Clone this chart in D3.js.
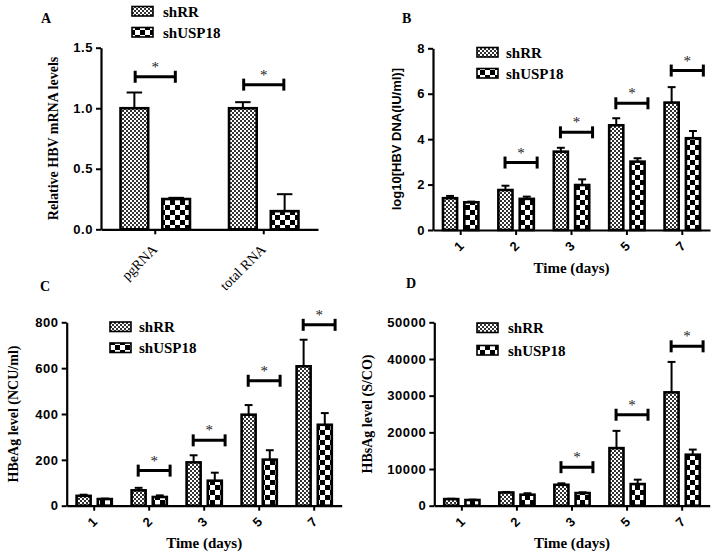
<!DOCTYPE html>
<html><head><meta charset="utf-8">
<script src="https://cdn.jsdelivr.net/npm/d3@7"></script>
<style>body{margin:0;background:#fff}</style>
</head><body>
<svg id="chart" width="714" height="556"></svg>
<script>
// ---------- data ----------
const series = ["shRR", "shUSP18"];

const catsA = ["pgRNA", "total RNA"];
const rrA = [1.00, 1.00];
const rrErrA = [0.13, 0.05];
const uspA = [0.25, 0.15];
const uspErrA = [0.01, 0.14];
const sigA = [1.26, 1.195];
const ticksA = [0, 0.5, 1.0, 1.5];

const days = ["1", "2", "3", "5", "7"];

const rrB = [1.40, 1.76, 3.45, 4.61, 5.61];
const rrErrB = [0.10, 0.19, 0.17, 0.31, 0.68];
const uspB = [1.22, 1.37, 1.98, 3.01, 4.04];
const uspErrB = [0.03, 0.10, 0.25, 0.15, 0.32];
const sigB = [null, 2.97, 4.30, 5.58, 7.02];
const ticksB = [0, 2, 4, 6, 8];

const rrC = [43, 67, 189, 397, 608];
const rrErrC = [5, 11, 31, 42, 116];
const uspC = [29, 38, 109, 201, 353];
const uspErrC = [2, 7, 35, 41, 51];
const sigC = [null, 153, 285, 545, 789];
const ticksC = [0, 200, 400, 600, 800];

const rrD = [1800, 3600, 5700, 15700, 30900];
const rrErrD = [100, 150, 400, 4700, 8300];
const uspD = [1550, 3000, 3450, 5900, 13900];
const uspErrD = [100, 400, 200, 1200, 1400];
const sigD = [null, null, 10500, 24800, 43450];
const ticksD = [0, 10000, 20000, 30000, 40000, 50000];

// ---------- setup ----------
const svg = d3.select("#chart");
const defs = svg.append("defs");
const pf = defs.append("pattern").attr("id", "pFine").attr("patternUnits", "userSpaceOnUse")
  .attr("width", 4).attr("height", 4);
pf.append("rect").attr("width", 4).attr("height", 4).attr("fill", "#fff");
pf.append("rect").attr("width", 2).attr("height", 2).attr("fill", "#333");
pf.append("rect").attr("x", 2).attr("y", 2).attr("width", 2).attr("height", 2).attr("fill", "#333");
const pc = defs.append("pattern").attr("id", "pCoarse").attr("patternUnits", "userSpaceOnUse")
  .attr("width", 10).attr("height", 10);
pc.append("rect").attr("width", 10).attr("height", 10).attr("fill", "#fff");
pc.append("rect").attr("width", 5).attr("height", 5).attr("fill", "#000");
pc.append("rect").attr("x", 5).attr("y", 5).attr("width", 5).attr("height", 5).attr("fill", "#000");
const fills = ["url(#pFine)", "url(#pCoarse)"];

const SERIF = "'Liberation Serif','Times New Roman',serif";
const SANS = "'Liberation Sans',Arial,sans-serif";

function drawPanel(c) {
  const g = svg.append("g");
  const x = d3.scaleBand().domain(c.cats).range([c.x0, c.x1]).padding(0);
  const y = d3.scaleLinear().domain([0, c.ticks[c.ticks.length - 1]]).range([c.yBot, c.yTop]);
  const bw = x.bandwidth();
  const barW = bw * 0.255, hg = bw * 0.065;

  // y axis
  const ya = g.append("g").attr("transform", `translate(${c.x0},0)`)
    .call(d3.axisLeft(y).tickValues(c.ticks).tickSize(5).tickSizeOuter(0).tickPadding(3)
      .tickFormat(c.tickFmt));
  ya.select(".domain").attr("stroke-width", 2.2);
  ya.selectAll(".tick line").attr("stroke-width", 2);
  ya.selectAll(".tick text").attr("font-family", SANS).attr("font-weight", "bold")
    .attr("font-size", 13).attr("letter-spacing", "0.6px").attr("fill", "#000");

  // x axis
  const xa = g.append("g").attr("transform", `translate(0,${c.yBot})`)
    .call(d3.axisBottom(x).tickSize(5).tickSizeOuter(0));
  xa.select(".domain").attr("stroke-width", 2.2);
  xa.selectAll(".tick line").attr("stroke-width", 2);
  xa.selectAll(".tick text")
    .attr("x", 0).attr("y", 0).attr("dy", 0)
    .attr("text-anchor", "end")
    .attr("transform", `translate(${c.lblDx},${c.lblDy}) rotate(-45)`)
    .attr("font-family", c.catFont).attr("font-weight", c.catWeight)
    .attr("font-size", c.catSize).attr("fill", "#000");

  // bars
  const vals = [c.rr, c.usp], errs = [c.rrErr, c.uspErr];
  vals.forEach((arr, s) => {
    const bx = d => x(d) + bw / 2 + (s === 0 ? -hg - barW : hg);
    const cats = c.cats.map((d, i) => ({cat: d, v: arr[i], e: errs[s][i]}));
    // error bars
    g.selectAll(null).data(cats).enter().append("line")
      .attr("x1", d => bx(d.cat) + barW / 2).attr("x2", d => bx(d.cat) + barW / 2)
      .attr("y1", d => y(d.v)).attr("y2", d => y(d.v + d.e))
      .attr("stroke", "#000").attr("stroke-width", 2);
    g.selectAll(null).data(cats).enter().append("line")
      .attr("x1", d => bx(d.cat) + barW * 0.22).attr("x2", d => bx(d.cat) + barW * 0.78)
      .attr("y1", d => y(d.v + d.e)).attr("y2", d => y(d.v + d.e))
      .attr("stroke", "#000").attr("stroke-width", 2);
    g.selectAll(null).data(cats).enter().append("rect")
      .attr("x", d => bx(d.cat)).attr("width", barW)
      .attr("y", d => y(d.v)).attr("height", d => c.yBot - y(d.v))
      .attr("fill", fills[s]).attr("stroke", "#000").attr("stroke-width", 2.6);
  });

  // significance brackets
  c.cats.forEach((d, i) => {
    const v = c.sig[i];
    if (v == null) return;
    const cx = x(d) + bw / 2;
    const xl = cx + bw * c.brL, xr = cx + bw * c.brR, yy = y(v);
    g.append("line").attr("x1", xl).attr("x2", xr).attr("y1", yy).attr("y2", yy)
      .attr("stroke", "#000").attr("stroke-width", 3);
    [xl, xr].forEach(xx => g.append("line").attr("x1", xx).attr("x2", xx)
      .attr("y1", yy - 6).attr("y2", yy + 6).attr("stroke", "#000").attr("stroke-width", 3));
    g.append("text").attr("x", (xl + xr) / 2).attr("y", yy - 5).attr("text-anchor", "middle")
      .attr("font-family", SERIF).attr("font-size", 15).attr("fill", "#222").text("*");
  });

  // legend
  series.forEach((s, i) => {
    const ly = c.legY[i];
    g.append("rect").attr("x", c.legX).attr("y", ly - 10).attr("width", 21).attr("height", 9.5)
      .attr("fill", fills[i]).attr("stroke", "#000").attr("stroke-width", 1.6);
    g.append("text").attr("x", c.legX + 21 + c.legGap).attr("y", ly)
      .attr("font-family", SERIF).attr("font-weight", "bold").attr("font-size", 15)
      .attr("fill", "#000").text(s);
  });

  // title
  g.append("text").attr("x", c.titleX).attr("y", c.titleY)
    .attr("font-family", SERIF).attr("font-weight", "bold").attr("font-size", 14).text(c.title);

  // y label
  g.append("text").attr("transform", `translate(${c.yLabX},${(c.yTop + c.yBot) / 2}) rotate(-90)`)
    .attr("text-anchor", "middle").attr("dy", "0.35em")
    .attr("font-family", c.yLabFont).attr("font-weight", "bold").attr("font-size", c.yLabSize)
    .text(c.yLab);

  // x label
  if (c.xLab) {
    g.append("text").attr("x", (c.x0 + c.x1) / 2).attr("y", c.xLabY).attr("text-anchor", "middle")
      .attr("font-family", SERIF).attr("font-weight", "bold").attr("font-size", 15).text(c.xLab);
  }
}

drawPanel({
  cats: catsA, rr: rrA, rrErr: rrErrA, usp: uspA, uspErr: uspErrA, sig: sigA, ticks: ticksA,
  tickFmt: d3.format(".1f"),
  x0: 101, x1: 318, yTop: 47.7, yBot: 229.3,
  lblDx: 3, lblDy: 21, catFont: SERIF, catWeight: "normal", catSize: 14,
  brL: -0.185, brR: 0.185,
  legX: 132, legY: [16.5, 37.5], legGap: 10,
  title: "A", titleX: 41, titleY: 23,
  yLab: "Relative HBV mRNA levels", yLabFont: SERIF, yLabSize: 14, yLabX: 53,
  xLab: null
});

drawPanel({
  cats: days, rr: rrB, rrErr: rrErrB, usp: uspB, uspErr: uspErrB, sig: sigB, ticks: ticksB,
  tickFmt: d3.format("d"),
  x0: 433, x1: 710, yTop: 48.3, yBot: 230,
  lblDx: 4, lblDy: 17, catFont: SANS, catWeight: "bold", catSize: 13,
  brL: -0.2, brR: 0.38,
  legX: 477, legY: [57.5, 78.5], legGap: 8,
  title: "B", titleX: 402, titleY: 23,
  yLab: "log10[HBV DNA(IU/ml)]", yLabFont: SANS, yLabSize: 13, yLabX: 396,
  xLab: "Time (days)", xLabY: 273
});

drawPanel({
  cats: days, rr: rrC, rrErr: rrErrC, usp: uspC, uspErr: uspErrC, sig: sigC, ticks: ticksC,
  tickFmt: d3.format("d"),
  x0: 66.7, x1: 341.7, yTop: 322.3, yBot: 505.7,
  lblDx: 4, lblDy: 17, catFont: SANS, catWeight: "bold", catSize: 13,
  brL: -0.2, brR: 0.38,
  legX: 110, legY: [332, 353], legGap: 8,
  title: "C", titleX: 40, titleY: 291,
  yLab: "HBeAg level (NCU/ml)", yLabFont: SERIF, yLabSize: 14, yLabX: 13,
  xLab: "Time (days)", xLabY: 548
});

drawPanel({
  cats: days, rr: rrD, rrErr: rrErrD, usp: uspD, uspErr: uspErrD, sig: sigD, ticks: ticksD,
  tickFmt: d3.format("d"),
  x0: 434.3, x1: 709.7, yTop: 322.3, yBot: 505.7,
  lblDx: 4, lblDy: 17, catFont: SANS, catWeight: "bold", catSize: 13,
  brL: -0.2, brR: 0.38,
  legX: 477, legY: [333, 355.5], legGap: 10,
  title: "D", titleX: 406, titleY: 288,
  yLab: "HBsAg level (S/CO)", yLabFont: SERIF, yLabSize: 14, yLabX: 367,
  xLab: "Time (days)", xLabY: 548
});
</script>
</body></html>
